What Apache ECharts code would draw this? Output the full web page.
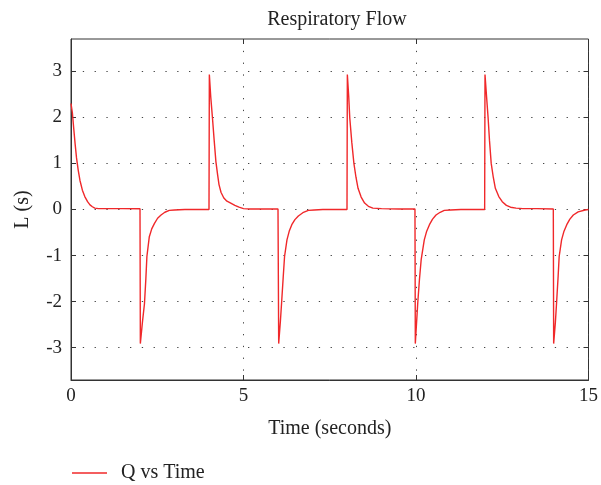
<!DOCTYPE html>
<html>
<head>
<meta charset="utf-8">
<title>Respiratory Flow</title>
<script src="https://cdn.jsdelivr.net/npm/echarts@6/dist/echarts.min.js"></script>
<style>
  html, body { margin: 0; padding: 0; background: #fff; }
  #chart { width: 601px; height: 485px; }
</style>
</head>
<body>
<div id="chart"></div>
<script>
  // time (s)
  const times = [
    0, 0.04, 0.08, 0.12, 0.16, 0.21, 0.26, 0.33, 0.40, 0.48, 0.55, 0.62, 0.69, 0.80, 1.0, 1.5, 2.0,
    2.01, 2.07, 2.13, 2.17, 2.20, 2.27, 2.34, 2.42, 2.51, 2.61, 2.72, 2.85, 3.0, 3.3, 4.0,
    4.01, 4.05, 4.10, 4.15, 4.20, 4.25, 4.29, 4.35, 4.43, 4.52, 4.63, 4.75, 4.87, 5.0, 5.2, 6.0,
    6.02, 6.07, 6.11, 6.15, 6.19, 6.26, 6.33, 6.40, 6.49, 6.59, 6.72, 6.88, 7.05, 7.3, 8.0,
    8.01, 8.05, 8.08, 8.14, 8.20, 8.26, 8.32, 8.41, 8.51, 8.62, 8.75, 9.0, 9.5, 9.97,
    9.98, 10.05, 10.10, 10.15, 10.24, 10.31, 10.39, 10.48, 10.58, 10.70, 10.82, 11.0, 11.3, 11.99,
    12.0, 12.05, 12.09, 12.13, 12.18, 12.24, 12.30, 12.40, 12.50, 12.62, 12.74, 12.9, 13.1, 13.5, 13.98,
    13.99, 14.04, 14.08, 14.12, 14.15, 14.22, 14.29, 14.37, 14.46, 14.56, 14.70, 14.90, 15.0
  ]
  // flow values at those times
  const flow = [
    2.30, 2.10, 1.75, 1.42, 1.12, 0.85, 0.63, 0.42, 0.28, 0.17, 0.10, 0.06, 0.03, 0.02, 0.02, 0.02, 0.015,
    -2.91, -2.45, -2.04, -1.50, -1.02, -0.59, -0.42, -0.30, -0.19, -0.12, -0.06, -0.02, -0.01, 0, 0,
    2.93, 2.45, 1.99, 1.50, 1.04, 0.75, 0.54, 0.37, 0.25, 0.18, 0.14, 0.09, 0.05, 0.02, 0.01, 0.01,
    -2.91, -2.42, -1.96, -1.48, -1.02, -0.66, -0.46, -0.33, -0.22, -0.14, -0.07, -0.02, -0.01, 0, 0,
    2.93, 2.45, 1.99, 1.45, 1.00, 0.70, 0.46, 0.27, 0.14, 0.07, 0.03, 0.02, 0.01, 0.01,
    -2.91, -2.04, -1.52, -1.09, -0.66, -0.47, -0.33, -0.21, -0.12, -0.06, -0.02, -0.01, 0, 0,
    2.93, 2.40, 1.99, 1.50, 1.00, 0.70, 0.46, 0.28, 0.17, 0.09, 0.05, 0.03, 0.02, 0.02, 0.01,
    -2.91, -2.45, -1.96, -1.45, -1.02, -0.66, -0.47, -0.33, -0.21, -0.12, -0.05, -0.01, 0
  ]
  const yTicks = [-3, -2, -1, 0, 1, 2, 3]
  const seriesName = 'Q vs Time'

  const font = 'Liberation Serif'
  const txt = '#222'
  const lineColor = '#f0282a'
  const dotted = { color: '#444', width: 1, type: [1.3, 10.5] }

  let chart = echarts.init(document.getElementById('chart'))

  let option = {
    animation: false,
    title: {
      text: 'Respiratory Flow',
      left: 332,
      textAlign: 'center',
      top: 5,
      textStyle: { fontFamily: font, fontSize: 20, fontWeight: 'normal', color: txt }
    },
    legend: {
      left: 67,
      top: 458,
      itemWidth: 35,
      itemHeight: 2,
      icon: 'path://M0,0L35,0L35,1.4L0,1.4Z',
      data: [seriesName],
      itemStyle: { color: lineColor },
      textStyle: { fontFamily: font, fontSize: 20, color: txt, padding: [0, 0, 0, 9] }
    },
    grid: {
      left: 71,
      right: 7,
      top: 39,
      bottom: 105,
      show: true,
      borderColor: '#333',
      borderWidth: 1
    },
    xAxis: [
      {
        type: 'value',
        min: 0,
        max: 15,
        interval: 5,
        name: 'Time (seconds)',
        nameLocation: 'middle',
        nameGap: 39,
        nameTextStyle: { fontFamily: font, fontSize: 20, color: txt },
        axisLine: { onZero: false, lineStyle: { color: '#333' } },
        axisTick: { inside: true, length: 5, lineStyle: { color: '#333' } },
        axisLabel: { fontFamily: font, fontSize: 19, color: txt, margin: 7 },
        splitLine: { show: true, lineStyle: dotted }
      },
      {
        type: 'value',
        position: 'top',
        min: 0,
        max: 15,
        interval: 5,
        axisLine: { show: false, onZero: false },
        axisTick: { inside: true, length: 5, lineStyle: { color: '#333' } },
        axisLabel: { show: false },
        splitLine: { show: false }
      }
    ],
    yAxis: [
      {
        type: 'value',
        min: -3.7,
        max: 3.7,
        name: 'L (s)',
        nameLocation: 'middle',
        nameGap: 38,
        nameTextStyle: { fontFamily: font, fontSize: 20, color: txt },
        axisLine: { show: true, onZero: false, lineStyle: { color: '#333' } },
        axisTick: { inside: true, length: 5, customValues: yTicks, lineStyle: { color: '#333' } },
        axisLabel: { fontFamily: font, fontSize: 19, color: txt, margin: 9, customValues: yTicks },
        splitLine: { show: true, lineStyle: dotted }
      },
      {
        type: 'value',
        position: 'right',
        min: -3.7,
        max: 3.7,
        axisLine: { show: false, onZero: false },
        axisTick: { inside: true, length: 5, customValues: yTicks, lineStyle: { color: '#333' } },
        axisLabel: { show: false },
        splitLine: { show: false }
      }
    ],
    series: [
      {
        name: seriesName,
        type: 'line',
        xAxisIndex: 0,
        yAxisIndex: 0,
        symbol: 'none',
        smooth: false,
        lineStyle: { color: lineColor, width: 1.4 },
        itemStyle: { color: lineColor },
        data: times.map((t, i) => [t, flow[i]])
      }
    ]
  }

  chart.setOption(option)
</script>
</body>
</html>
